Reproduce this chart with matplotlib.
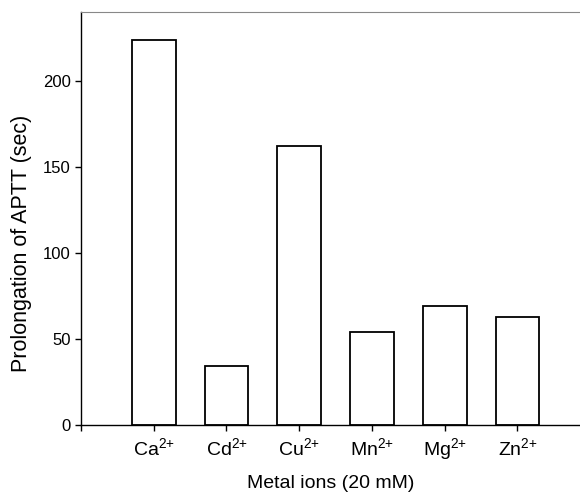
import numpy as np
import matplotlib
matplotlib.use("Agg")
import matplotlib.pyplot as plt

plt.rcParams['font.family'] = ['Liberation Sans', 'DejaVu Sans']
plt.rcParams['mathtext.default'] = 'regular'

# data
ions = ['Ca$^{2{+}}$', 'Cd$^{2{+}}$', 'Cu$^{2{+}}$', 'Mn$^{2{+}}$', 'Mg$^{2{+}}$', 'Zn$^{2{+}}$']
aptt = [224, 34, 162, 54, 69, 63]

fig = plt.figure(figsize=(5.8, 4.98), dpi=100)
ax = fig.add_axes([0.1397, 0.1466, 0.8603, 0.8293])

x = np.arange(1, len(ions) + 1)
ax.bar(x, aptt, width=0.6, color='white', edgecolor='black', linewidth=1.3)

ax.set_xlim(0, 6.86)
ax.set_ylim(0, 240)
ax.set_xticks(np.arange(0, len(ions) + 1))
ax.set_xticklabels([''] + ions, fontsize=14)
# keep labels on a common baseline (Mg has a descender)
for lbl in ax.get_xticklabels():
    lbl.set_verticalalignment('baseline')
ax.set_yticks([0, 50, 100, 150, 200])
ax.tick_params(axis='y', labelsize=12, direction='out', length=4, width=1)
ax.tick_params(axis='x', direction='out', length=4, width=1, pad=18)

ax.spines['right'].set_visible(False)
ax.spines['top'].set_color('#888888')
ax.spines['top'].set_linewidth(0.8)
ax.spines['left'].set_linewidth(1)
ax.spines['bottom'].set_linewidth(1)

ax.set_xlabel('Metal ions (20 mM)', fontsize=14)
ax.xaxis.set_label_coords(0.5, -0.122)
ax.set_ylabel('Prolongation of APTT (sec)', fontsize=15.5)
ax.yaxis.set_label_coords(-0.098, 0.44)

fig.savefig('out.png', dpi=100)
